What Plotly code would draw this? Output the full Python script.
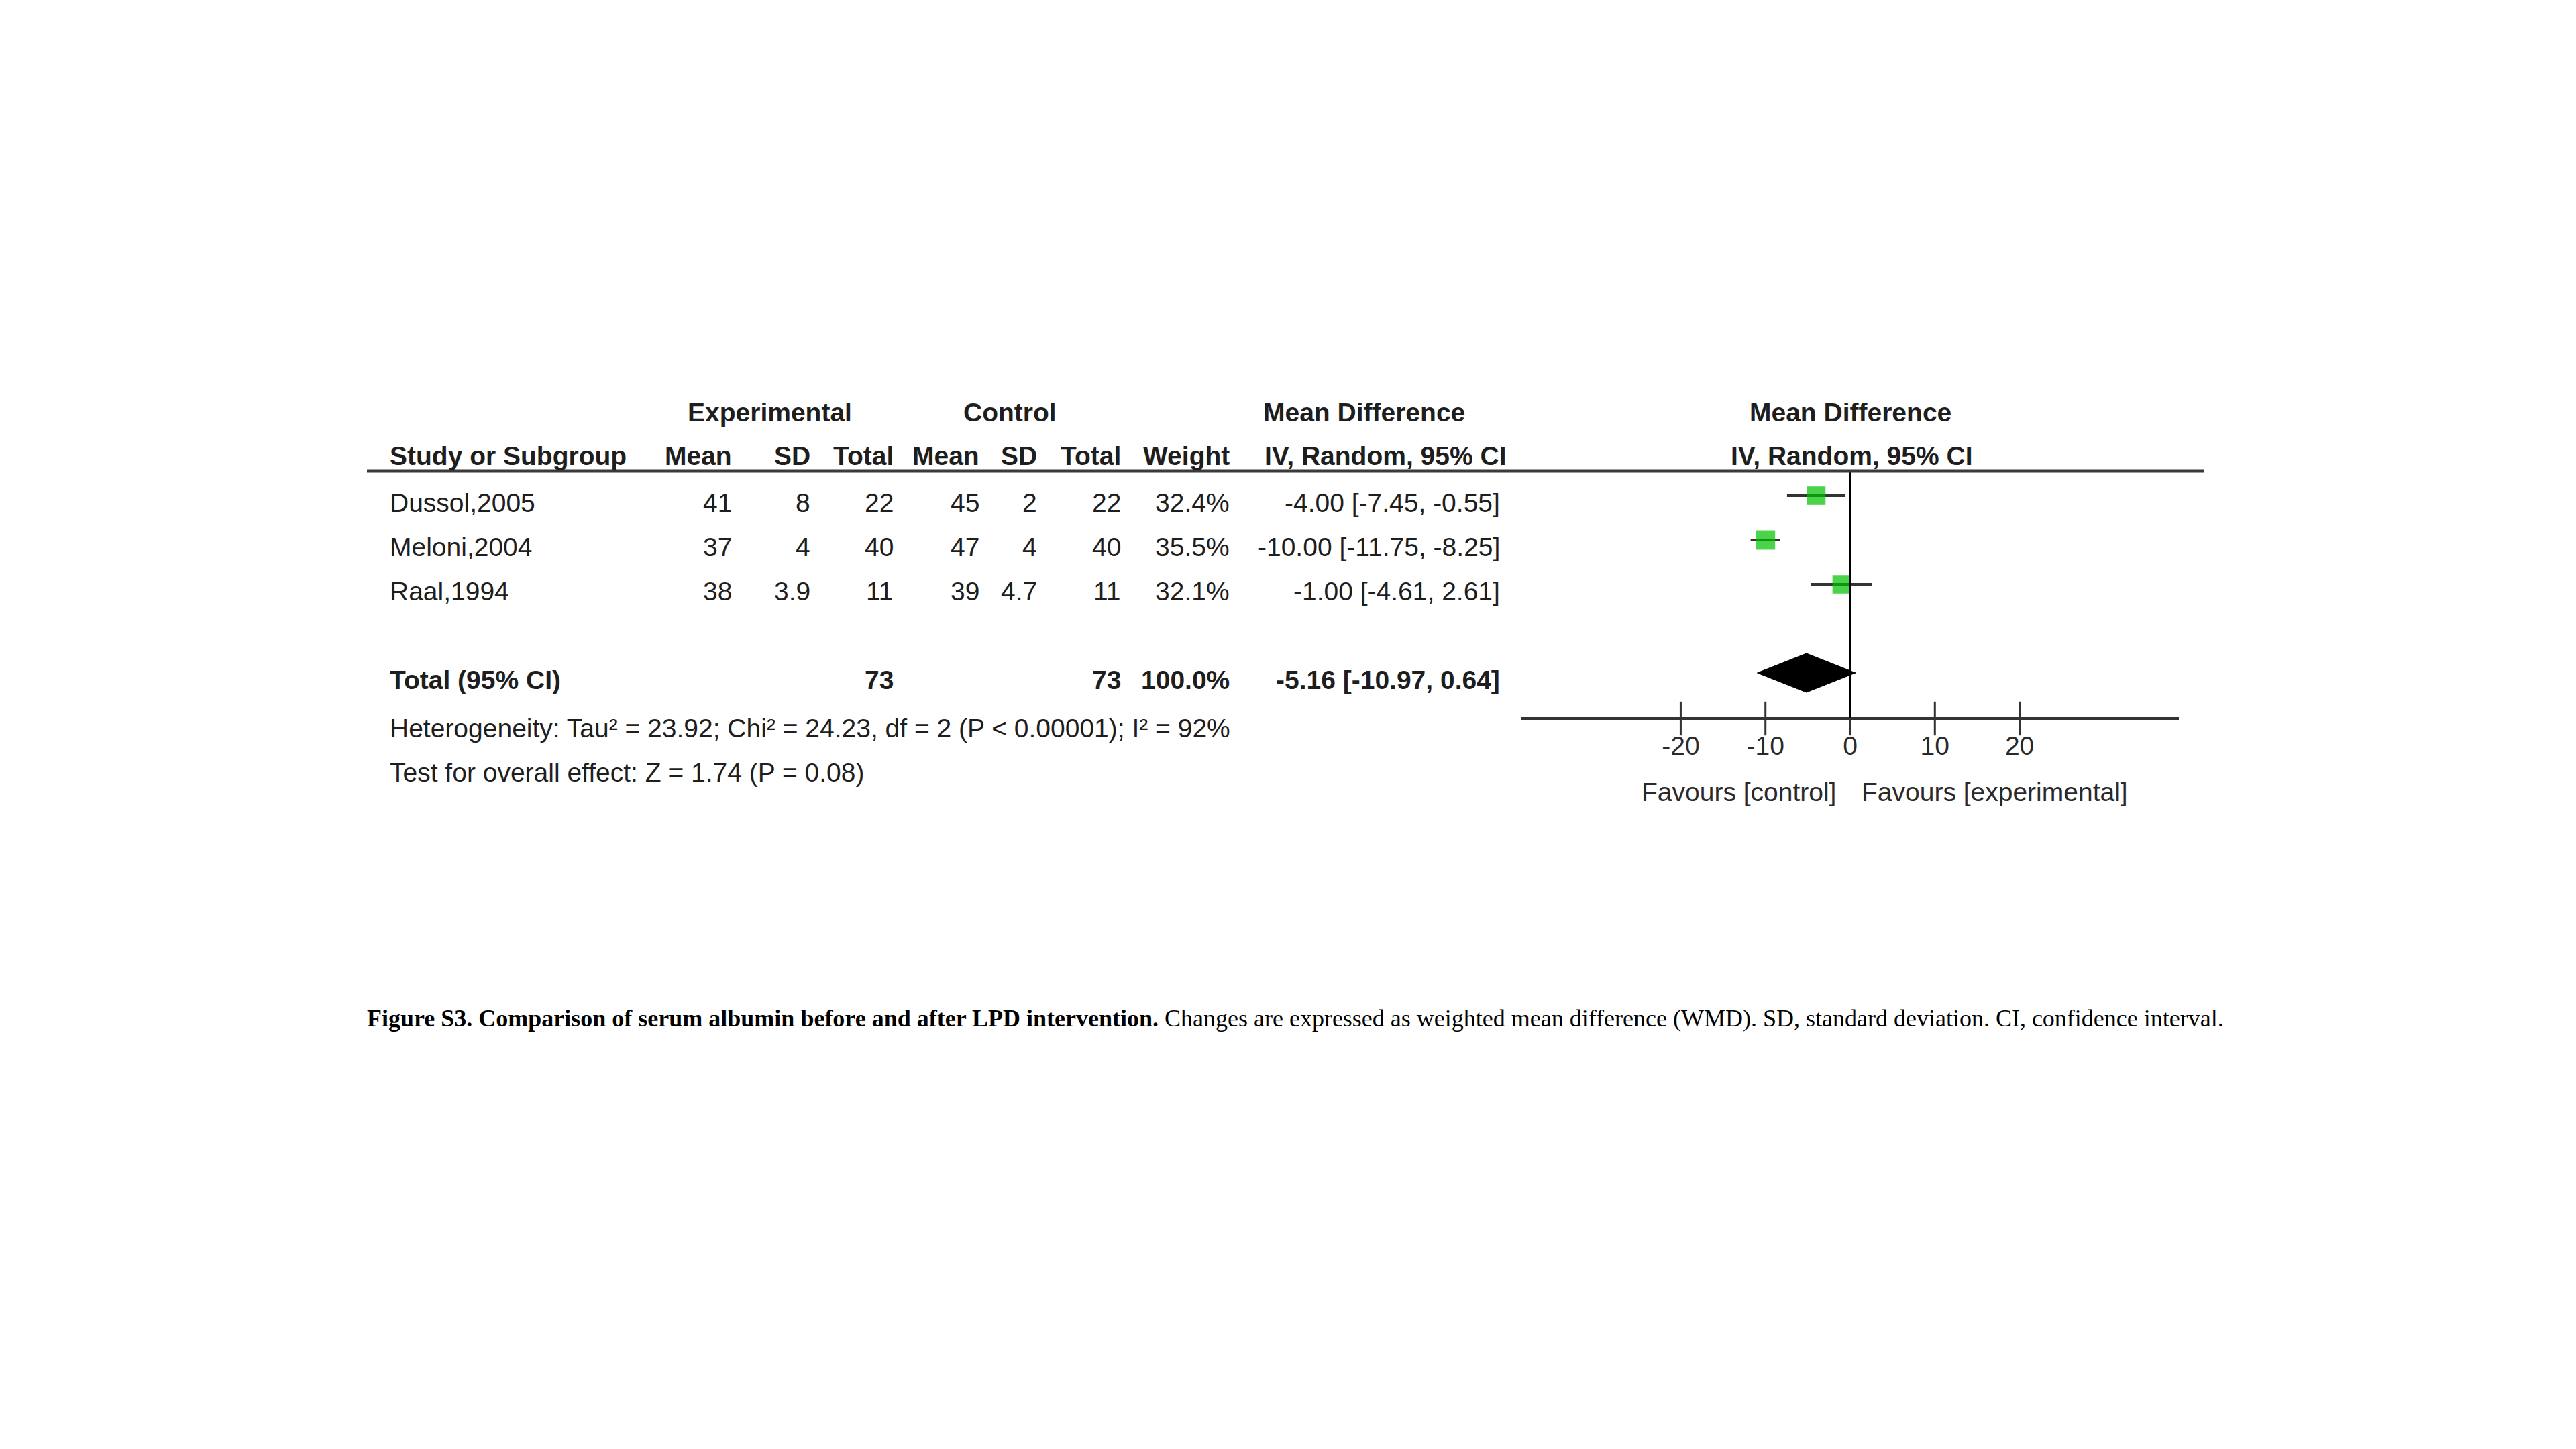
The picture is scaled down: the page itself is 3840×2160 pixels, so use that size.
import plotly.graph_objects as go

# ---------------- data ----------------
studies = ["Dussol,2005", "Meloni,2004", "Raal,1994"]
exp_mean = [41, 37, 38]
exp_sd = [8, 4, 3.9]
exp_n = [22, 40, 11]
ctl_mean = [45, 47, 39]
ctl_sd = [2, 4, 4.7]
ctl_n = [22, 40, 11]
weight = [32.4, 35.5, 32.1]
md = [-4.00, -10.00, -1.00]
ci_lo = [-7.45, -11.75, -4.61]
ci_hi = [-0.55, -8.25, 2.61]

total_label = "Total (95% CI)"
total_exp_n = 73
total_ctl_n = 73
total_weight = 100.0
total_md = -5.16
total_lo = -10.97
total_hi = 0.64

heterogeneity = "Heterogeneity: Tau² = 23.92; Chi² = 24.23, df = 2 (P &lt; 0.00001); I² = 92%"
overall = "Test for overall effect: Z = 1.74 (P = 0.08)"
tick_vals = [-20, -10, 0, 10, 20]
null_effect = 0
favours_left = "Favours [control]"
favours_right = "Favours [experimental]"
caption_bold = "Figure S3. Comparison of serum albumin before and after LPD intervention."
caption_rest = (" Changes are expressed as weighted mean difference (WMD). SD, standard deviation. "
                "CI, confidence interval.")

# ---------------- layout constants ----------------
W, H = 3840, 2160
FONT = "Liberation Sans, Arial, sans-serif"
TXT = "#1e1e1e"
FS = 39
ROW0_PX = 731      # marker centre of first study row
ROW_PX = 66        # pixels per row
TEXT_DY = 10       # text sits slightly below the markers
HEADER_LINE_PX = 694
AXIS_PX = 1063


def px(x):
    return x / W


def py(y):
    return 1 - y / H


def row_of(p):
    return (p - ROW0_PX) / ROW_PX + 1


def text_py(r):
    return py(ROW0_PX + TEXT_DY + (r - 1) * ROW_PX)


study_rows = [1, 2, 3]
total_row = 5
axis_row = row_of(AXIS_PX)
header_row = row_of(HEADER_LINE_PX)

fig = go.Figure()

# CI lines
for r, lo, hi in zip(study_rows, ci_lo, ci_hi):
    fig.add_trace(go.Scatter(x=[lo, hi], y=[r, r], mode="lines",
                             line=dict(color="#333333", width=4),
                             hoverinfo="skip", showlegend=False))

# squares
fig.add_trace(go.Scatter(
    x=md, y=study_rows, mode="markers",
    marker=dict(symbol="square", color="#00c000",
                size=[28 * (w / 33.3) ** 0.5 for w in weight], line=dict(width=0)),
    showlegend=False))

# diamond
dh = 0.44
fig.add_trace(go.Scatter(
    x=[total_lo, total_md, total_hi, total_md, total_lo],
    y=[total_row, total_row - dh, total_row, total_row + dh, total_row],
    mode="lines", fill="toself", fillcolor="black",
    line=dict(color="black", width=1), showlegend=False, hoverinfo="skip"))

# tick marks crossing the axis line
fig.add_trace(go.Scatter(
    x=tick_vals, y=[axis_row] * len(tick_vals), mode="markers",
    marker=dict(symbol="line-ns", size=36, line=dict(color="#333333", width=3)),
    showlegend=False, hoverinfo="skip"))

# zero line
fig.add_shape(type="line", xref="x", yref="y", x0=null_effect, x1=null_effect,
              y0=header_row, y1=axis_row, line=dict(color="black", width=3))
# header rule
fig.add_shape(type="line", xref="paper", yref="paper", x0=px(539), x1=px(3277),
              y0=py(HEADER_LINE_PX), y1=py(HEADER_LINE_PX),
              line=dict(color="#3a3a3a", width=5))

ann = []


def add(text, x, y, anchor="right", bold=False, size=FS, color=TXT, family=FONT):
    ann.append(dict(text=f"<b>{text}</b>" if bold else text, x=x, y=y,
                    xref="paper", yref="paper", xanchor=anchor, yanchor="middle",
                    showarrow=False, font=dict(family=family, size=size, color=color)))


# headers
add("Experimental", px(1139), py(606), "center", True)
add("Control", px(1497), py(606), "center", True)
add("Mean Difference", px(2025), py(606), "center", True)
add("Mean Difference", px(2750), py(606), "center", True)
hy = py(671)
add("Study or Subgroup", px(571), hy, "left", True)
cols = [1085, 1202, 1326, 1454, 1540, 1665, 1827, 2230]
heads = ["Mean", "SD", "Total", "Mean", "SD", "Total", "Weight"]
for name, c in zip(heads, cols):
    add(name, px(c), hy, "right", True)
add("IV, Random, 95% CI", px(2240), hy, "right", True)
add("IV, Random, 95% CI", px(2752), hy, "center", True)

# study rows
for i, r in enumerate(study_rows):
    y = text_py(r)
    add(studies[i], px(571), y, "left")
    vals = [f"{exp_mean[i]:g}", f"{exp_sd[i]:g}", f"{exp_n[i]}",
            f"{ctl_mean[i]:g}", f"{ctl_sd[i]:g}", f"{ctl_n[i]}",
            f"{weight[i]:.1f}%", f"{md[i]:.2f} [{ci_lo[i]:.2f}, {ci_hi[i]:.2f}]"]
    for v, c in zip(vals, cols):
        add(v, px(c), y, "right")

# total row
y = text_py(total_row)
add(total_label, px(571), y, "left", True)
add(f"{total_exp_n}", px(cols[2]), y, "right", True)
add(f"{total_ctl_n}", px(cols[5]), y, "right", True)
add(f"{total_weight:.1f}%", px(cols[6]), y, "right", True)
add(f"{total_md:.2f} [{total_lo:.2f}, {total_hi:.2f}]", px(cols[7]), y, "right", True)

add(heterogeneity, px(571), py(1077), "left")
add(overall, px(571), py(1143), "left")

add(favours_left, px(2731), py(1172), "right", color="#2a2a2a")
add(favours_right, px(2765), py(1172), "left", color="#2a2a2a")

# caption
ann.append(dict(text=f"<b>{caption_bold}</b>{caption_rest}", x=px(537), y=py(1510),
                xref="paper", yref="paper", xanchor="left", yanchor="middle", showarrow=False,
                font=dict(family="Liberation Serif, Times New Roman, serif", size=36, color="black")))

fig.update_layout(
    width=W, height=H, margin=dict(l=0, r=0, t=0, b=0),
    paper_bgcolor="white", plot_bgcolor="rgba(0,0,0,0)",
    annotations=ann, showlegend=False,
    xaxis=dict(domain=[px(2260), px(3240)], range=[-38.8, 38.8],
               anchor="free", position=py(AXIS_PX),
               showline=True, linewidth=4, linecolor="#333333",
               showgrid=False, zeroline=False,
               tickmode="array", tickvals=tick_vals, ticktext=[f"{t}" for t in tick_vals],
               ticks="", ticklabelstandoff=5,
               tickfont=dict(family=FONT, size=FS, color="#2a2a2a")),
    yaxis=dict(domain=[0, 1], range=[row_of(H), row_of(0)], visible=False,
               showgrid=False, zeroline=False),
)

fig.write_html("out.html")
